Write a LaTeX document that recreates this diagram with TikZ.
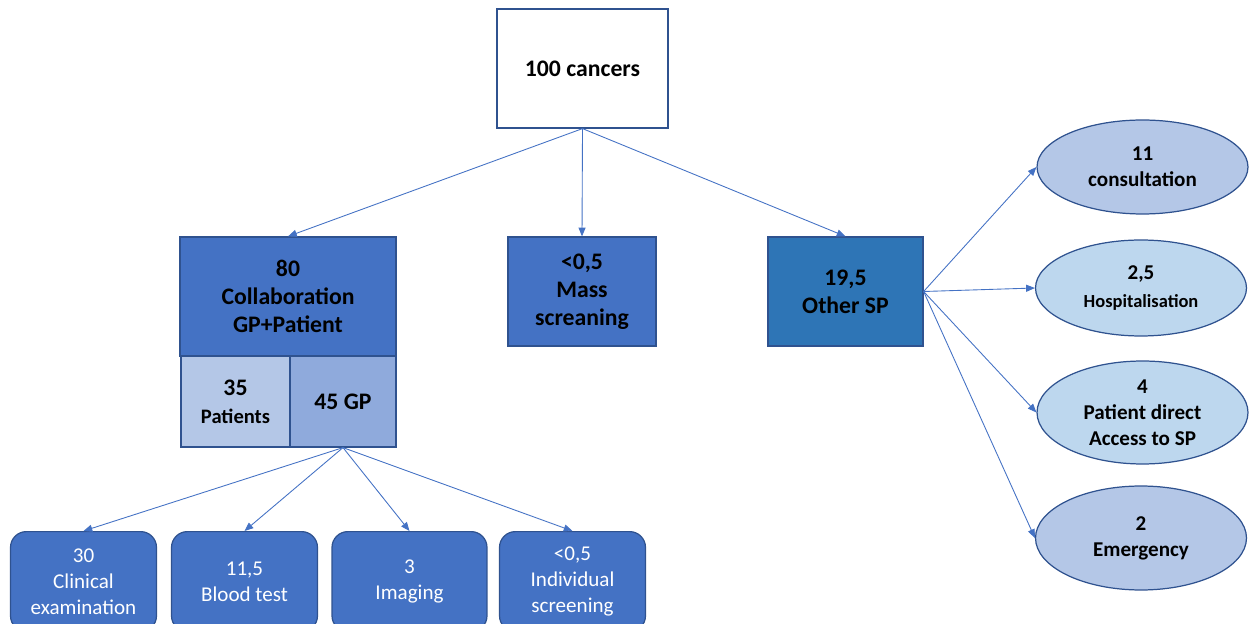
\documentclass[tikz,border=0pt]{standalone}
\usepackage{fontspec}
\setmainfont{Carlito}
\usetikzlibrary{shapes.geometric,arrows.meta}

\definecolor{accent}{HTML}{4472C4}
\definecolor{rim}{HTML}{2F528F}
\definecolor{midblue}{HTML}{2E75B6}
\definecolor{paleblue}{HTML}{B4C7E7}
\definecolor{softblue}{HTML}{8FAADC}
\definecolor{skyblue}{HTML}{BDD7EE}

\tikzset{
  box/.style={draw=rim,line width=0.7pt,fill=accent,align=center,
    font=\fontsize{13.5}{16}\selectfont\bfseries,inner sep=0pt},
  leaf/.style={draw=rim,line width=0.7pt,fill=accent,rounded corners=9pt,align=center,
    text=white,font=\fontsize{12}{14.8}\selectfont,inner sep=0pt,minimum width=2.92cm,minimum height=2cm},
  oval/.style={ellipse,draw=rim,line width=0.7pt,align=center,
    font=\fontsize{12}{14.8}\selectfont\bfseries,inner sep=0pt,minimum width=4.22cm},
  link/.style={-{Triangle[length=5pt,width=4pt]},accent,line width=0.5pt}
}

\begin{document}
\begin{tikzpicture}[x=0.02cm,y=-0.02cm]
  \useasboundingbox (0,0) rectangle (1250,624);

  \node[box,fill=white,minimum width=3.42cm,minimum height=2.38cm] (cancers) at (582.5,68.5) {100 cancers};

  \node[box,minimum width=4.32cm,minimum height=2.38cm] (collab) at (288,296.5) {80\\Collaboration\\GP+Patient};
  \node[box,fill=paleblue,minimum width=2.18cm,minimum height=1.82cm] (patients) at (235.5,401.5) {35\\{\fontsize{11.7}{14}\selectfont Patients}};
  \node[box,fill=softblue,minimum width=2.12cm,minimum height=1.82cm] (gp) at (343,401.5) {45 GP};
  \node[box,minimum width=2.96cm,minimum height=2.18cm] (mass) at (582,291.5) {<0,5\\Mass\\screaning};
  \node[box,fill=midblue,minimum width=3.1cm,minimum height=2.18cm] (other) at (845.5,291.5) {19,5\\Other SP};

  \node[leaf,anchor=north] (clinical) at (83.5,531) {30\\Clinical\\examination};
  \node[leaf,anchor=north] (blood) at (244.5,531) {11,5\\Blood test};
  \node[leaf,anchor=north,minimum width=3.1cm] (imaging) at (409.5,531) {3\\Imaging};
  \node[leaf,anchor=north] (individual) at (572.5,531) {<0,5\\Individual\\screening};

  \node[oval,fill=paleblue,minimum height=1.88cm] (consult) at (1142.5,167) {11\\consultation};
  \node[oval,fill=skyblue,minimum height=1.92cm] (hosp) at (1141,288) {2,5\\[1pt]{\fontsize{10.5}{12}\selectfont Hospitalisation}};
  \node[oval,fill=skyblue,minimum height=2.06cm] (direct) at (1142.5,412.5) {4\\Patient direct\\Access to SP};
  \node[oval,fill=paleblue,minimum height=2.08cm] (emerg) at (1141,538) {2\\Emergency};

  \draw[link] (cancers.south) -- (collab.north);
  \draw[link] (cancers.south) -- (mass.north);
  \draw[link] (cancers.south) -- (other.north);

  \draw[link] (gp.south) -- (clinical.north);
  \draw[link] (gp.south) -- (blood.north);
  \draw[link] (gp.south) -- (imaging.north);
  \draw[link] (gp.south) -- (individual.north);

  \draw[link] (other.east) -- (consult.west);
  \draw[link] (other.east) -- (hosp.west);
  \draw[link] (other.east) -- (direct.west);
  \draw[link] (other.east) -- (emerg.west);
\end{tikzpicture}
\end{document}
